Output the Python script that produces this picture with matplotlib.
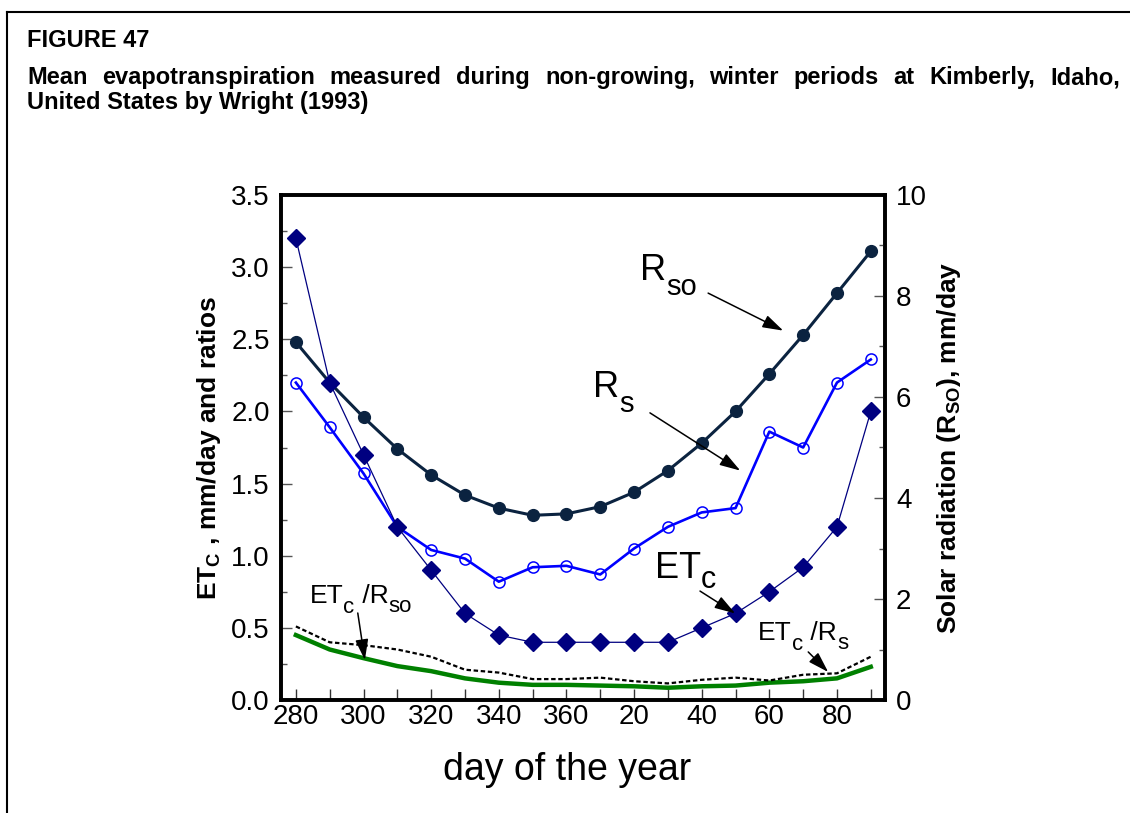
import matplotlib
matplotlib.use("Agg")
import matplotlib.pyplot as plt
from matplotlib.lines import Line2D
from matplotlib.transforms import IdentityTransform
from matplotlib.ticker import MultipleLocator, FixedLocator

plt.rcParams['font.family'] = ['Liberation Sans', 'DejaVu Sans']
plt.rcParams['mathtext.fontset'] = 'custom'
plt.rcParams['mathtext.rm'] = 'Liberation Sans'
plt.rcParams['mathtext.bf'] = 'Liberation Sans:bold'

# ---------------- data ----------------
days = [280, 290, 300, 310, 320, 330, 340, 350, 360, 370, 380, 390, 400, 410, 420, 430, 440, 450]
tick_labels = ['280', '', '300', '', '320', '', '340', '', '360', '', '20', '', '40', '', '60', '', '80', '']
etc = [3.2, 2.2, 1.7, 1.2, 0.9, 0.6, 0.45, 0.4, 0.4, 0.4, 0.4, 0.4, 0.5, 0.6, 0.75, 0.92, 1.2, 2.0]
rso = [2.48, 2.2, 1.96, 1.74, 1.56, 1.42, 1.33, 1.28, 1.29, 1.34, 1.44, 1.59, 1.78, 2.0, 2.26, 2.53, 2.82, 3.11]
rs = [2.2, 1.89, 1.57, 1.2, 1.04, 0.98, 0.82, 0.92, 0.93, 0.87, 1.05, 1.2, 1.3, 1.33, 1.86, 1.75, 2.2, 2.36]
etc_rso = [0.45, 0.35, 0.29, 0.235, 0.2, 0.15, 0.12, 0.105, 0.105, 0.1, 0.095, 0.085, 0.095, 0.1, 0.12, 0.13, 0.15, 0.23]
etc_rs = [0.51, 0.40, 0.38, 0.35, 0.30, 0.21, 0.19, 0.145, 0.145, 0.155, 0.13, 0.115, 0.14, 0.155, 0.135, 0.175, 0.185, 0.30]

W, H = 1130, 813
fig = plt.figure(figsize=(W / 100, H / 100), dpi=100)
fig.patch.set_facecolor('white')

# frame lines (left and top)
fig.add_artist(Line2D([7 / W, 7 / W], [0, 1 - 12 / H], color='black', lw=1.5, transform=fig.transFigure))
fig.add_artist(Line2D([7 / W, 1], [1 - 12 / H, 1 - 12 / H], color='black', lw=1.5, transform=fig.transFigure))

renderer = fig.canvas.get_renderer()

# title
title_fs = 17
fig.text(27 / W, 1 - 47 / H, 'FIGURE 47', fontsize=title_fs, fontweight='bold', va='baseline', ha='left')
line2 = 'Mean evapotranspiration measured during non-growing, winter periods at Kimberly, Idaho,'
words = line2.split()
wtexts = [fig.text(0, 1 - 84 / H, w, fontsize=title_fs, fontweight='bold', va='baseline', ha='left') for w in words]
widths = [t.get_window_extent(renderer).width for t in wtexts]
x0, x1 = 27, 1120
gap = (x1 - x0 - sum(widths)) / (len(words) - 1)
xc = x0
for t, wd in zip(wtexts, widths):
    t.set_x(xc / W)
    xc += wd + gap
fig.text(27 / W, 1 - 109 / H, 'United States by Wright (1993)', fontsize=title_fs, fontweight='bold',
         va='baseline', ha='left')

# axes
ax = fig.add_axes([281 / W, 1 - 700 / H, (885 - 281) / W, (700 - 195) / H])
ax.set_xlim(275.6, 454.2)
ax.set_ylim(0, 3.5)

ax.plot(days, etc_rso, color='#008000', lw=3.2, zorder=2)
ax.plot(days, etc_rs, color='black', lw=1.6, linestyle=(0, (2, 1.2)), zorder=2)
ax.plot(days, rso, color='#0b2340', lw=2.2, marker='o', ms=8.5, zorder=3)
ax.plot(days, rs, color='#0000ff', lw=1.9, marker='o', ms=8, mfc='none', mew=1.1, zorder=3)
ax.plot(days, etc, color='#000080', lw=0.9, marker='D', ms=9, mec='#000080', zorder=4)

for s in ax.spines.values():
    s.set_linewidth(2.6)

ax.xaxis.set_major_locator(FixedLocator(days))
ax.set_xticklabels(tick_labels)
ax.yaxis.set_major_locator(MultipleLocator(0.5))
ax.yaxis.set_minor_locator(MultipleLocator(0.25))
ax.yaxis.set_major_formatter(matplotlib.ticker.FormatStrFormatter('%.1f'))
ax.tick_params(axis='x', direction='in', length=8, width=1, color='#333333', labelsize=20, pad=3)
ax.tick_params(axis='y', which='major', direction='in', length=8, width=1, color='#555555', labelsize=20, pad=8)
ax.tick_params(axis='y', which='minor', direction='in', length=4, width=1, color='#555555')

ax.set_xlabel('day of the year', fontsize=27)
ax.xaxis.set_label_coords(0.4735, -0.103)
ax.set_ylabel(r'ET$_{\mathbf{C}}$ , mm/day and ratios', fontsize=19, fontweight='bold', labelpad=6)

ax2 = ax.twinx()
ax2.set_ylim(0, 10)
ax2.yaxis.set_major_locator(MultipleLocator(2))
ax2.yaxis.set_minor_locator(MultipleLocator(1))
ax2.tick_params(axis='y', which='major', direction='in', length=8, width=1, color='#555555', labelsize=20, pad=8)
ax2.tick_params(axis='y', which='minor', direction='in', length=4, width=1, color='#555555')
for s in ax2.spines.values():
    s.set_linewidth(2.6)
ax2.set_ylabel(r'Solar radiation (R$_{\mathbf{SO}}$), mm/day', fontsize=19, fontweight='bold',
               rotation=90, labelpad=6)


def chain(x, y, parts):
    """Draw text pieces one after another; parts = (text, size, drop_px)."""
    px, py = ax.transData.transform((x, y))
    for txt, size, drop in parts:
        t = ax.text(px, py - drop, txt, fontsize=size, transform=IdentityTransform(),
                    ha='left', va='baseline', zorder=6)
        px = t.get_window_extent(renderer).x1


def arrow(tail, head):
    ax.annotate('', xy=head, xytext=tail,
                arrowprops=dict(arrowstyle='-|>,head_length=0.7,head_width=0.22', color='black',
                                lw=1.1, mutation_scale=18, shrinkA=0, shrinkB=0), zorder=6)


chain(381.8, 2.91, [('R', 26, 0), ('so', 21, 15)])
arrow((401.9, 2.82), (424.1, 2.56))
chain(367.9, 2.10, [('R', 26, 0), ('s', 21, 15)])
arrow((384.7, 1.99), (411.4, 1.59))
chain(386.2, 0.845, [('ET', 26, 0), ('c', 22, 10)])
arrow((399.5, 0.755), (409.9, 0.60))
chain(284.1, 0.672, [('ET', 19, 0), ('c', 16, 10), (' /R', 19, 0), ('so', 16, 9)])
arrow((298.3, 0.603), (300.4, 0.277))
chain(416.7, 0.416, [('ET', 19, 0), ('c', 16, 10), (' /R', 19, 0), ('s', 16, 9)])
arrow((431.5, 0.333), (437.4, 0.194))

fig.savefig('out.png', dpi=100)
